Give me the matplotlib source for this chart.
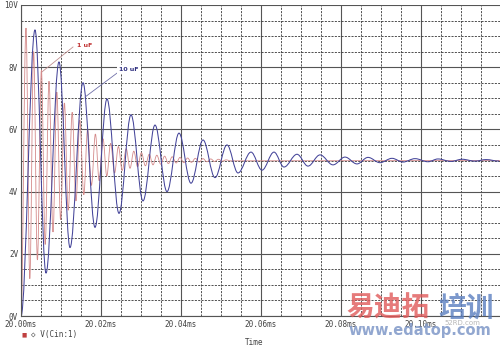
import matplotlib
matplotlib.use('Agg')
import matplotlib.pyplot as plt
from matplotlib.path import Path
from matplotlib.patches import PathPatch

# time in microseconds after 20.00 ms, voltage in V (turning points)
t_10uf = [0.0, 3.5, 6.25, 9.5, 12.25, 15.5, 18.5, 21.5, 24.5, 27.5, 30.5, 33.5, 36.5,
          39.5, 42.5, 45.5, 48.5, 51.5, 54.25, 57.5, 60.25, 63.25, 65.75, 69.0, 71.75,
          74.75, 78.0, 81.0, 84.0, 86.75, 89.75, 92.75, 95.5, 98.5, 101.75, 104.25,
          107.5, 110.25, 113.5, 116.25, 119.5]
v_10uf = [0.0, 9.2, 1.38, 8.17, 2.2, 7.5, 2.85, 6.98, 3.3, 6.47, 3.7, 6.14, 4.0,
          5.88, 4.27, 5.66, 4.45, 5.5, 4.6, 5.27, 4.69, 5.27, 4.79, 5.2, 4.82,
          5.18, 4.86, 5.11, 4.89, 5.1, 4.93, 5.07, 4.95, 5.06, 4.96, 5.05,
          4.97, 5.04, 4.98, 5.03, 4.98]

t_1uf = [0.0, 1.25, 2.2, 3.15, 4.1, 5.1, 6.05, 7.0, 8.0, 8.95, 9.9, 10.85, 11.8, 12.8,
         13.75, 14.7, 15.7, 16.65, 17.6, 18.6, 19.55, 20.5, 21.45, 22.4, 23.4, 24.35,
         25.3, 26.3, 27.25, 28.2, 29.15, 30.1, 31.1, 32.05, 33.0, 33.95, 34.95, 35.9,
         36.85, 37.8, 38.8, 39.75, 40.7, 41.65, 42.6, 43.6, 44.55, 45.5, 46.45, 47.45,
         48.4, 49.35, 50.3, 51.3, 52.25, 120.0]
v_1uf = [0.0, 9.26, 1.2, 8.5, 1.8, 7.9, 2.3, 7.55, 2.7, 7.2, 3.1, 6.85, 3.4, 6.55,
         3.7, 6.3, 3.9, 6.0, 4.2, 5.85, 4.35, 5.7, 4.5, 5.55, 4.6, 5.45,
         4.68, 5.38, 4.75, 5.3, 4.8, 5.25, 4.83, 5.2, 4.86, 5.17, 4.88, 5.14,
         4.9, 5.12, 4.92, 5.1, 4.93, 5.08, 4.94, 5.07, 4.95, 5.06, 4.96, 5.05,
         4.97, 5.04, 4.98, 5.02, 4.99, 5.0]

x_ticks = [0, 20, 40, 60, 80, 100]
x_labels = ['20.00ms', '20.02ms', '20.04ms', '20.06ms', '20.08ms', '20.10ms']
y_ticks = [0, 2, 4, 6, 8, 10]
y_labels = ['0V', '2V', '4V', '6V', '8V', '10V']


def smooth_path(t, v, k=0.3634):
    # cubic bezier between turning points, flat tangent at each one
    verts = [(t[0], v[0])]
    codes = [Path.MOVETO]
    for i in range(len(t) - 1):
        dt = t[i + 1] - t[i]
        verts += [(t[i] + k * dt, v[i]), (t[i + 1] - k * dt, v[i + 1]), (t[i + 1], v[i + 1])]
        codes += [Path.CURVE4] * 3
    return Path(verts, codes)


fig = plt.figure(figsize=(5, 3.46), dpi=100)
ax = fig.add_axes([21 / 500, 30 / 346, 480 / 500, 311 / 346])
ax.set_xlim(0, 120)
ax.set_ylim(0, 10)

ax.set_xticks(x_ticks + [120])
ax.set_xticklabels(x_labels + [''])
ax.set_yticks(y_ticks)
ax.set_yticklabels(y_labels)
ax.set_xticks(range(0, 121, 5), minor=True)
ax.set_yticks([i * 0.5 for i in range(21)], minor=True)
ax.tick_params(which='both', length=0)
ax.tick_params(axis='x', pad=3, labelsize=5.5, labelcolor='#444444')
ax.tick_params(axis='y', pad=2, labelsize=5.5, labelcolor='#444444')
for lab in ax.get_xticklabels() + ax.get_yticklabels():
    lab.set_family('DejaVu Sans Mono')

ax.grid(which='minor', color='#333333', linestyle=(0, (2.5, 1.5)), linewidth=0.6)
ax.grid(which='major', color='#555555', linestyle='-', linewidth=0.8)
ax.set_axisbelow(True)
for side in ['top', 'right']:
    ax.spines[side].set_visible(False)
for side in ['left', 'bottom']:
    ax.spines[side].set_color('#555555')
    ax.spines[side].set_linewidth(0.8)

ax.add_patch(PathPatch(smooth_path(t_1uf, v_1uf), fill=False, edgecolor='#d48a8a', linewidth=0.6))
ax.add_patch(PathPatch(smooth_path(t_10uf, v_10uf), fill=False, edgecolor='#45459a', linewidth=0.75))

# labels pointing to the traces
ax.plot([13.0, 5.25], [8.65, 7.85], color='#c09090', linewidth=0.6)
ax.text(14.0, 8.71, '1 uF', color='#c03030', fontsize=4.5, fontweight='bold', va='center',
        bbox=dict(facecolor='white', edgecolor='none', pad=1.5))
ax.plot([24.0, 16.0], [7.81, 7.04], color='#7070a8', linewidth=0.6)
ax.text(24.5, 7.94, '10 uF', color='#303080', fontsize=4.5, fontweight='bold', va='center',
        bbox=dict(facecolor='white', edgecolor='none', pad=1.5))

# legend / axis title
fig.text(22 / 500, 0.032, '\u25a0', color='#c04040', fontsize=4, va='center')
fig.text(31 / 500, 0.032, '\u25c7 V(Cin:1)', color='#444444', fontsize=5.5,
         family='DejaVu Sans Mono', va='center')
fig.text(254 / 500, 0.009, 'Time', color='#444444', fontsize=5.5,
         family='DejaVu Sans Mono', ha='center', va='center')

# site watermark
fig.text(346 / 500, 0.107, '易迪拓', color='#e05a5a', alpha=0.8, fontsize=20,
         fontweight='bold', family=['Noto Sans CJK SC', 'DejaVu Sans'], va='center')
fig.text(438 / 500, 0.107, '培训', color='#5a7ec0', alpha=0.8, fontsize=20,
         fontweight='bold', family=['Noto Sans CJK SC', 'DejaVu Sans'], va='center')
fig.text(348 / 500, 0.046, 'www.edatop.com', color='#7f98c8', alpha=0.85, fontsize=10.5,
         fontweight='bold', va='center')
fig.text(444 / 500, 0.066, '52RD.com', color='#999999', alpha=0.7, fontsize=5, va='center')

fig.savefig('out.png', dpi=100, facecolor='white')
